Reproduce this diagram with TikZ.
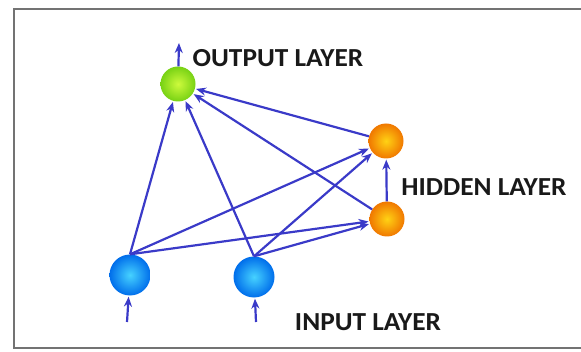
\documentclass[tikz,border=0pt]{standalone}
\usepackage{fontspec}
\setmainfont{Carlito}
\usetikzlibrary{arrows.meta}
\definecolor{linkblue}{RGB}{58,58,200}
\definecolor{framegray}{RGB}{115,115,115}
\definecolor{labelink}{RGB}{25,25,25}
\begin{document}
\begin{tikzpicture}[x=1pt,y=1pt,
  neuron/.style={circle,minimum size=#1,inner sep=0pt,shading=radial},
  outcell/.style={neuron=35pt,inner color={rgb,255:red,205;green,250;blue,60},outer color={rgb,255:red,120;green,210;blue,20}},
  hidcell/.style={neuron=35pt,inner color={rgb,255:red,255;green,210;blue,20},outer color={rgb,255:red,240;green,120;blue,0}},
  incell/.style={neuron=41pt,inner color={rgb,255:red,70;green,210;blue,255},outer color={rgb,255:red,0;green,110;blue,235}},
  link/.style={draw=linkblue,line width=2.2pt,-{Stealth[length=10pt,width=8pt]},shorten >=1pt},
  layerlabel/.style={font=\fontsize{26}{30}\selectfont\bfseries,text=labelink,inner sep=0pt,xscale=1.05}]
  \useasboundingbox (0,0) rectangle (581,351);
  % frame, open towards the right edge
  \draw[framegray,line width=1.8pt] (590,342) -- (14,342) -- (14,3) -- (590,3);

  % neurons
  \node[outcell] (out) at (178,267) {};
  \node[hidcell] (h1) at (386,210) {};
  \node[hidcell] (h2) at (387,132) {};
  \node[incell] (in1) at (130,76) {};
  \node[incell] (in2) at (254,74) {};

  % free ends of the outside signals
  \coordinate (outtip) at (179,309);
  \coordinate (in1src) at (127,29);
  \coordinate (in2src) at (256,29);

  % connections
  \draw[link] (in1.north) -- (out);
  \draw[link] (in1.north) -- (h1);
  \draw[link] (in1.north) -- (h2);
  \draw[link] (in2.north) -- (out);
  \draw[link] (in2.north) -- (h1);
  \draw[link] (in2.north) -- (h2);
  \draw[link] (h2) -- (h1);
  \draw[link] (h1) -- (out);
  \draw[link] (h2) -- (out);
  \draw[link] (out) -- (outtip);
  \draw[link] (in1src) -- (in1);
  \draw[link] (in2src) -- (in2);

  % layer labels
  \node[layerlabel] (outlabel) at (278,293) {OUTPUT LAYER};
  \node[layerlabel] (hidlabel) at (484,164) {HIDDEN LAYER};
  \node[layerlabel] (inlabel) at (368,29) {INPUT LAYER};
\end{tikzpicture}
\end{document}
